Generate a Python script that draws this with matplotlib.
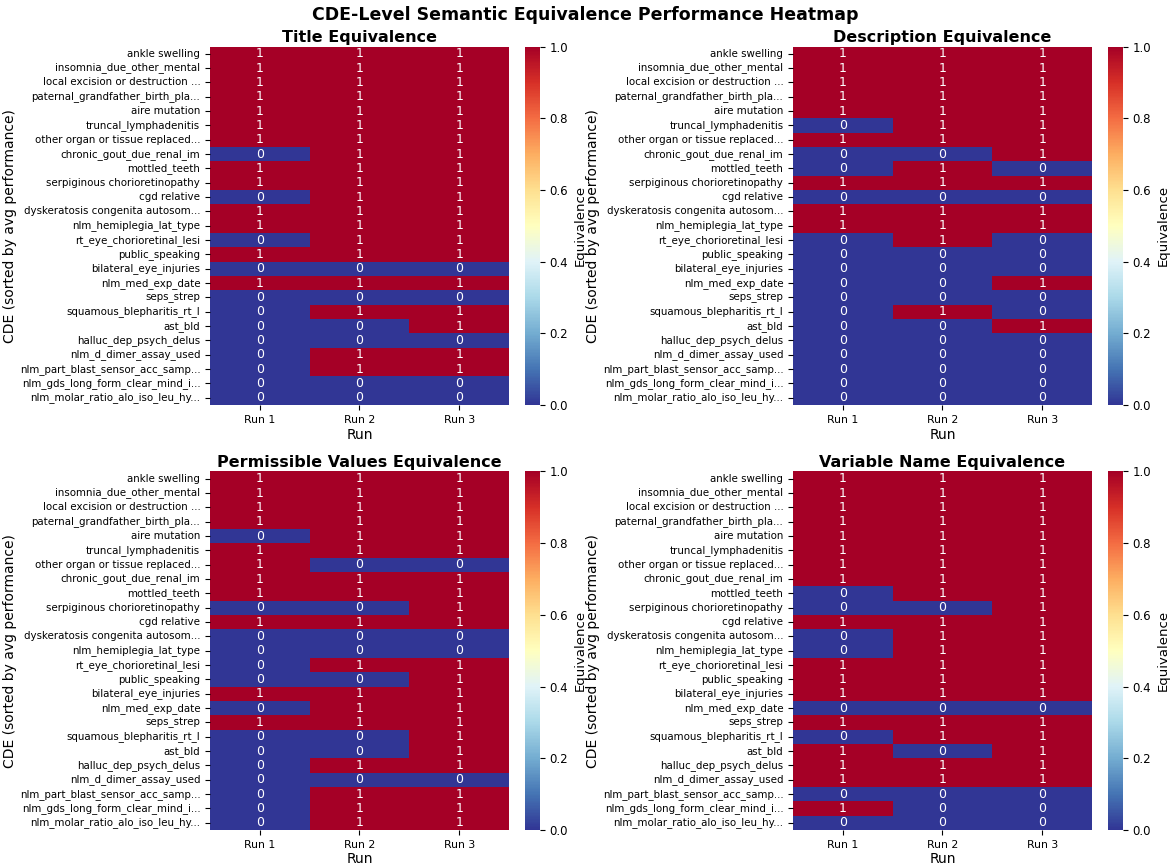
import matplotlib
matplotlib.use('agg')
import matplotlib.pyplot as plt
import numpy as np
import seaborn as sns

cdes = ["ankle swelling", "insomnia_due_other_mental", "local excision or destruction ...",
        "paternal_grandfather_birth_pla...", "aire mutation", "truncal_lymphadenitis",
        "other organ or tissue replaced...", "chronic_gout_due_renal_im", "mottled_teeth",
        "serpiginous chorioretinopathy", "cgd relative", "dyskeratosis congenita autosom...",
        "nlm_hemiplegia_lat_type", "rt_eye_chorioretinal_lesi", "public_speaking",
        "bilateral_eye_injuries", "nlm_med_exp_date", "seps_strep", "squamous_blepharitis_rt_l",
        "ast_bld", "halluc_dep_psych_delus", "nlm_d_dimer_assay_used",
        "nlm_part_blast_sensor_acc_samp...", "nlm_gds_long_form_clear_mind_i...",
        "nlm_molar_ratio_alo_iso_leu_hy..."]
runs = ["Run 1", "Run 2", "Run 3"]

# one string per CDE, one digit per run
title_eq = ["111", "111", "111", "111", "111", "111", "111", "011", "111", "111", "011", "111", "111",
            "011", "111", "000", "111", "000", "011", "001", "000", "011", "011", "000", "000"]
desc_eq = ["111", "111", "111", "111", "111", "011", "111", "001", "010", "111", "000", "111", "111",
           "010", "000", "000", "001", "000", "010", "001", "000", "000", "000", "000", "000"]
pv_eq = ["111", "111", "111", "111", "011", "111", "100", "111", "111", "001", "111", "000", "000",
         "011", "001", "111", "011", "111", "001", "001", "011", "000", "011", "011", "011"]
var_eq = ["111", "111", "111", "111", "111", "111", "111", "111", "011", "001", "111", "011", "011",
          "111", "111", "111", "000", "111", "011", "101", "111", "111", "000", "100", "000"]

panels = [("Title Equivalence", title_eq), ("Description Equivalence", desc_eq),
          ("Permissible Values Equivalence", pv_eq), ("Variable Name Equivalence", var_eq)]

fig = plt.figure(figsize=(11.7, 8.68), dpi=100)
lefts = [0.1795, 0.6778]
bottoms = [0.5334, 0.0438]
for i, (name, rows) in enumerate(panels):
    l = lefts[i % 2]
    b = bottoms[i // 2]
    ax = fig.add_axes([l, b, 0.2555, 0.413])
    cax = fig.add_axes([l + 0.2692, b, 0.0128, 0.413])
    mat = np.array([[int(c) for c in r] for r in rows])
    sns.heatmap(mat, ax=ax, cbar_ax=cax, cmap="RdYlBu_r", vmin=0, vmax=1, annot=True, fmt="d",
                xticklabels=runs, yticklabels=cdes, annot_kws={"size": 9})
    ax.set_title(name, fontsize=11.5, fontweight="bold", pad=3)
    ax.set_xlabel("Run", fontsize=10, labelpad=2)
    ax.set_ylabel("CDE (sorted by avg performance)", fontsize=10)
    ax.yaxis.set_label_coords(-0.645, 0.5)
    ax.set_yticklabels(cdes, rotation=0, fontsize=7.4)
    ax.set_xticklabels(runs, rotation=0, fontsize=7.8)
    cax.tick_params(labelsize=8.5)
    cax.set_ylabel("Equivalence", fontsize=9.5)

fig.suptitle("CDE-Level Semantic Equivalence Performance Heatmap", fontsize=12.5,
             fontweight="bold", y=0.993)
plt.savefig("out.png")
